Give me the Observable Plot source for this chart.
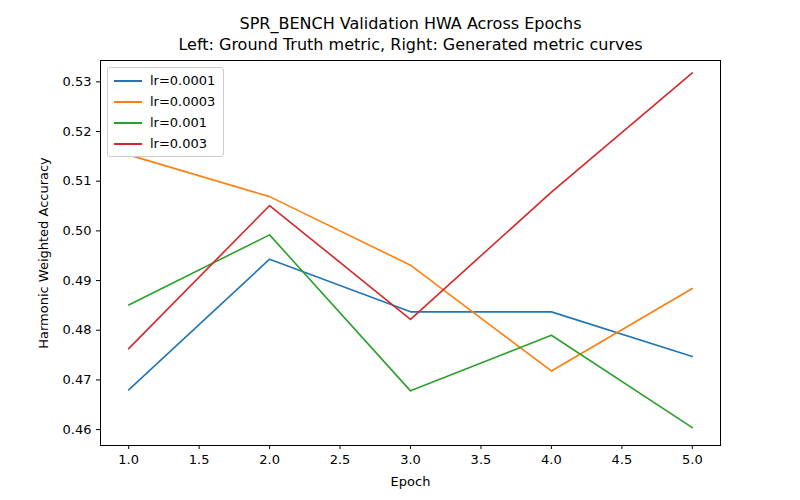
<!DOCTYPE html>
<html>
<head>
<meta charset="utf-8">
<script src="https://cdn.jsdelivr.net/npm/d3@7"></script>
<script src="https://cdn.jsdelivr.net/npm/@observablehq/plot@0.6"></script>
<style>
  body { margin: 0; background: #fff; font-family: "DejaVu Sans", sans-serif; }
  #wrap { position: relative; width: 800px; height: 500px; }
  #legend { position: absolute; left: 107px; top: 67px; background: #fff; border: 1px solid #ccc;
            border-radius: 3px; padding: 2px 8px 2px 6px; font-size: 13px; color: #000; }
  #legend div { display: flex; align-items: center; height: 21px; }
  #legend span.sw { display: inline-block; width: 28px; height: 2px; margin-right: 8px; }
</style>
</head>
<body>
<div id="wrap"><div id="chart"></div><div id="legend"></div></div>
<script>
const epochs = [1, 2, 3, 4, 5];
const seriesNames = ["lr=0.0001", "lr=0.0003", "lr=0.001", "lr=0.003"];
const colors = ["#1f77b4", "#ff7f0e", "#2ca02c", "#d62728"];
const hwa_1e4 = [0.4680, 0.4943, 0.4837, 0.4837, 0.4747];
const hwa_3e4 = [0.5153, 0.5069, 0.4931, 0.4718, 0.4884];
const hwa_1e3 = [0.4851, 0.4992, 0.4678, 0.4790, 0.4604];
const hwa_3e3 = [0.4763, 0.5051, 0.4822, 0.5078, 0.5318];
const xTicks = [1, 1.5, 2, 2.5, 3, 3.5, 4, 4.5, 5];
const yTicks = [0.46, 0.47, 0.48, 0.49, 0.50, 0.51, 0.52, 0.53];

const allSeries = [hwa_1e4, hwa_3e4, hwa_1e3, hwa_3e3];
const data = allSeries.flatMap((vals, i) => vals.map((v, j) => ({epoch: epochs[j], hwa: v, lr: seriesNames[i]})));

let chart = Plot.plot({
  width: 800, height: 500,
  marginLeft: 100, marginRight: 80, marginTop: 60, marginBottom: 55,
  style: {fontFamily: "DejaVu Sans, sans-serif", fontSize: "13px", color: "#000"},
  x: {domain: [0.8, 5.2], ticks: xTicks, tickFormat: d3.format(".1f"), label: "Epoch", labelArrow: "none", labelAnchor: "center", labelOffset: 40, tickSize: 4},
  y: {domain: [0.4568, 0.5343], ticks: yTicks, tickFormat: d3.format(".2f"), label: "Harmonic Weighted Accuracy", labelArrow: "none", labelAnchor: "center", labelOffset: 62, tickSize: 4},
  color: {domain: seriesNames, range: colors},
  marks: [
    Plot.frame({stroke: "#000"}),
    Plot.line(data, {x: "epoch", y: "hwa", stroke: "lr", strokeWidth: 1.6}),
    Plot.text(["SPR_BENCH Validation HWA Across Epochs\nLeft: Ground Truth metric, Right: Generated metric curves"],
      {frameAnchor: "top", dy: -46, fontSize: 16, lineHeight: 1.3, textAnchor: "middle"})
  ]
});
d3.select('#chart').append(() => chart);

const leg = d3.select('#legend');
seriesNames.forEach((n, i) => {
  const row = leg.append('div');
  row.append('span').attr('class', 'sw').style('background', colors[i]);
  row.append('span').text(n);
});
</script>
</body>
</html>
